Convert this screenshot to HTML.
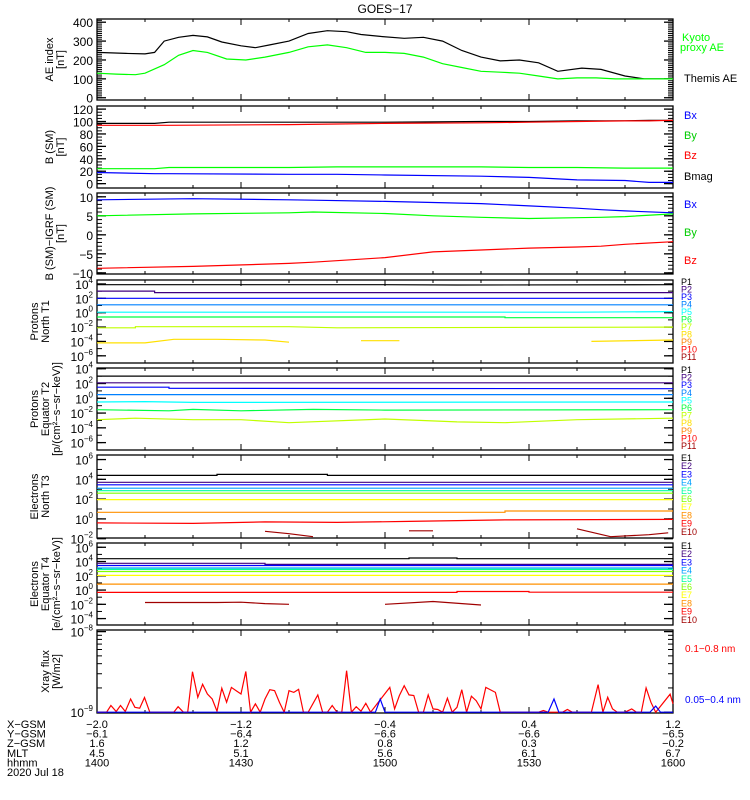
<!DOCTYPE html>
<html><head><meta charset="utf-8"><style>
html,body{margin:0;padding:0;background:#fff;}
svg{display:block;font-family:"Liberation Sans","DejaVu Sans",sans-serif;}
</style></head><body>
<svg id="fig" width="750" height="800" viewBox="0 0 750 800">
<text x="385" y="13" font-size="12" text-anchor="middle">GOES−17</text>
</svg>
<script>
// ---- data (time in minutes since 14:00) ----
const aeThemisT = [0,6,10,12,14,17,20,23,26,30,33,36,40,44,48,52,55,59,64,68,72,76,80,84,88,92,96,101,105,110,114,120];
const aeThemisV = [240,235,232,240,300,320,330,322,295,275,265,280,300,340,355,350,335,325,315,320,300,250,215,195,200,185,140,157,150,115,100,100];
const aeKyotoT = [0,4,8,10,14,17,20,23,27,31,35,40,44,48,52,56,60,64,68,72,76,80,84,88,92,96,100,104,108,112,116,120];
const aeKyotoV = [130,125,122,130,175,225,250,240,205,200,215,240,270,280,265,240,240,235,215,180,160,140,135,130,115,100,105,105,100,100,100,100];
const bT = [0,12,15,40,50,60,80,90,100,110,115,120];
const bMag = [97,97,99,99,99,99,100,100,101,101,102,102];
const bZ = [94,94,94,95,96,97,98,99,100,101,101,102];
const bY = [24,24,26,26,27,27,27,26,26,25,25,25];
const bX = [18,16,16,15,15,14,12,10,6,5,2,2];
const igT = [0,20,40,45,60,70,80,90,100,105,110,120];
const igBx = [9.2,9.5,9.2,9.1,8.8,8.5,8.2,7.6,7.0,6.6,6.3,5.8];
const igBy = [5.0,5.5,5.8,6.0,5.6,5.0,4.6,4.3,4.5,4.6,4.8,5.5];
const igBz = [-8.8,-8.3,-7.5,-7.2,-6.0,-4.5,-4.0,-3.5,-3.2,-3.0,-2.5,-1.8];
// log10 flux channels: [t, log10 value] pairs, null = gap
const t1Names = ["P1","P2","P3","P4","P5","P6","P7","P8","P9","P10","P11"];
const t1Data = [
 [[0,3.9],[60,3.9],[75,3.85],[120,3.9]],
 [[0,3.0],[12,3.0],[12,2.8],[120,2.8]],
 [[0,2.0],[120,2.0]],
 [[0,1.1],[120,1.1]],
 [[0,0.07],[100,0.07],[120,0.15]],
 [[0,-0.6],[85,-0.6],[85,-0.7],[120,-0.7]],
 [[0,-2.1],[8,-2.1],[8,-1.95],[40,-1.95],[50,-2.1],[120,-2.0]],
 [[0,-4.2],[10,-4.2],[16,-3.7],[25,-3.7],[35,-3.8],[40,-4.1],null,[55,-3.9],[63,-3.9],null,[103,-4.0],[120,-3.8]],
 [],[],[]
];
const t2Names = t1Names;
const t2Data = [
 [[0,3.0],[120,3.0]],
 [[0,2.1],[120,2.1]],
 [[0,1.5],[15,1.5],[15,1.35],[120,1.3]],
 [[0,0.5],[120,0.5]],
 [[0,-0.5],[10,-0.45],[20,-0.55],[120,-0.5]],
 [[0,-1.55],[15,-1.7],[20,-1.5],[30,-1.7],[45,-1.5],[60,-1.6],[120,-1.55]],
 [[0,-2.9],[8,-2.7],[20,-2.9],[30,-2.9],[40,-3.3],[60,-2.8],[75,-3.2],[85,-3.3],[100,-2.9],[120,-2.7]],
 [],[],[],[]
];
const t3Names = ["E1","E2","E3","E4","E5","E6","E7","E8","E9","E10"];
const t3Data = [
 [[0,4.4],[25,4.4],[25,4.5],[48,4.5],[48,4.4],[120,4.4]],
 [[0,3.7],[120,3.7]],
 [[0,3.45],[120,3.45]],
 [[0,3.1],[120,3.1]],
 [[0,2.85],[120,2.85]],
 [[0,2.6],[120,2.6]],
 [[0,1.95],[120,1.95]],
 [[0,0.67],[85,0.67],[85,0.8],[120,0.8]],
 [[0,-0.4],[20,-0.45],[35,-0.3],[50,-0.35],[65,-0.25],[85,-0.1],[120,-0.05]],
 [[35,-1.25],[40,-1.5],[45,-1.8],null,[65,-1.2],[70,-1.2],null,[100,-1.0],[107,-1.8],[115,-1.6],[119,-1.4]]
];
const t4Names = t3Names;
const t4Data = [
 [[0,4.4],[65,4.4],[65,4.5],[75,4.5],[75,4.4],[120,4.4]],
 [[0,3.75],[35,3.75],[35,3.6],[120,3.6]],
 [[0,3.45],[120,3.45]],
 [[0,3.1],[120,3.1]],
 [[0,2.9],[120,2.9]],
 [[0,2.6],[120,2.6]],
 [[0,2.05],[120,2.05]],
 [[0,0.83],[120,0.83]],
 [[0,-0.33],[75,-0.33],[75,-0.2],[90,-0.2],[90,-0.3],[120,-0.3]],
 [[10,-1.75],[25,-1.75],[30,-1.7],[35,-1.9],[40,-2.0],null,[60,-2.0],[70,-1.6],[80,-2.1]]
];
// X-ray flux in units of 1e-9 W/m2
const xrLongT = [0,2,2.9,4,4.9,5.9,7,7.9,8.9,9.9,11,16,16.9,18,18.9,19.9,21,22,23,24,25,26,27,28,29,30,31,32,33,34,35,36,37,38,39,40,41,42,43,44,46,47,48,49,50,51,52,53,54,55,56,57,61,62,63,64,65,66,67,68,69,70,71,72,73,74,75,76,77,78,79,80,81,82,83,84,90,92,93,94,97,98,99,103,104.4,105.4,106.4,107.4,108.4,110,111.4,112.4,113.4,114.4,115.4,116.4,119.4,120];
const xrLongV = [1,1,1.21,1.02,1.21,1.02,1.46,1.15,1.12,1.52,1,1,1.17,1,1,3.18,1.53,2.22,1.68,1.46,1.03,1.98,1.33,2.03,1.85,1.68,3.2,1,1.27,1,1.46,1.9,1.85,1.33,1,1.85,1.76,1.92,1,1,1.64,1,1,1.21,1,1,3.27,1,1.17,1.03,1.29,1,2.03,1.1,1.61,2.13,1.64,1.61,1,1,1.64,1.1,1.08,1,1.49,1,1.15,1.9,1,1.58,1.39,1.1,2.03,1.89,1.76,1,1,1,1.05,1,1,1.08,1,1,2.2,1,1.53,1.1,1,1,1.1,1,1,2.0,1.33,1,1.67,1.27];
const xrShortT = [0,58,59,60,94,95.2,96.2,115.2,116.4,117.4,120];
const xrShortV = [1,1,1.46,1,1,1.46,1,1,1.19,1,1];
const xTickT = [0,30,60,90,120];
const xGsm = ["−2.0","−1.2","−0.4","0.4","1.2"];
const yGsm = ["−6.1","−6.4","−6.6","−6.6","−6.5"];
const zGsm = ["1.6","1.2","0.8","0.3","−0.2"];
const mlt = ["4.5","5.1","5.6","6.1","6.7"];
const hhmm = ["1400","1430","1500","1530","1600"];

const NS="http://www.w3.org/2000/svg";
const svg=document.getElementById('fig');
const X0=97,X1=673;
function xs(t){return X0+(t/120)*(X1-X0);}
function el(tag,attrs,parent){const e=document.createElementNS(NS,tag);for(const k in attrs)e.setAttribute(k,attrs[k]);(parent||svg).appendChild(e);return e;}
function mkY(top,bot,lo,hi){return v=>bot-(v-lo)/(hi-lo)*(bot-top);}

function panel(name,top,bot){
  const g=el('g',{});
  
  
  const r=el('rect',{x:X0,y:top,width:X1-X0,height:bot-top,fill:'none',stroke:'#000','stroke-width':1.3},g);
  
  
  for(let t=10;t<120;t+=10){
    const L=(t%30===0)?6:3;
    el('line',{x1:xs(t),x2:xs(t),y1:bot,y2:bot-L,stroke:'#000'},g);
    el('line',{x1:xs(t),x2:xs(t),y1:top,y2:top+L,stroke:'#000'},g);
  }
  return g;
}
function yTicks(g,ys,vals,labels,minor){
  vals.forEach((v,i)=>{
    const y=ys(v);
    el('line',{x1:X0,x2:X0+9,y1:y,y2:y,stroke:'#000','stroke-width':1.3},g);
    el('line',{x1:X1,x2:X1-9,y1:y,y2:y,stroke:'#000','stroke-width':1.3},g);
    const tx=el('text',{x:X0-4,y:y+5,'font-size':12,'text-anchor':'end'},g);
    
    
    if(typeof labels[i]==='string') tx.textContent=labels[i];
    else { tx.textContent='10'; const s=el('tspan',{'font-size':8,dy:-6},tx); s.textContent=labels[i].e; }
  });
  (minor||[]).forEach(v=>{const y=ys(v);el('line',{x1:X0,x2:X0+5,y1:y,y2:y,stroke:'#000'},g);el('line',{x1:X1,x2:X1-5,y1:y,y2:y,stroke:'#000'},g);});
}
function ytitle(g,lines,top,bot,xsArr){
  const cy=(top+bot)/2;
  lines.forEach((s,i)=>{
    const t=el('text',{x:xsArr[i],y:cy,'font-size':11,'text-anchor':'middle',transform:`rotate(-90 ${xsArr[i]} ${cy})`},g);
    
    
    t.textContent=s;
  });
}
function line(g,T,V,ys,color,name){
  const p=T.map((t,i)=>xs(t).toFixed(1)+','+ys(V[i]).toFixed(1)).join(' ');
  const pl=el('polyline',{points:p,fill:'none',stroke:color,'stroke-width':1.2},g);
  
  
}
function segLine(g,pairs,ys,color,name){
  let cur=[];const segs=[];
  pairs.forEach(p=>{if(p===null){if(cur.length)segs.push(cur);cur=[];}else cur.push(p);});
  if(cur.length)segs.push(cur);
  segs.forEach(s=>line(g,s.map(p=>p[0]),s.map(p=>p[1]),ys,color,name));
}
function rlabel(g,x,y,txt,color,size){
  const t=el('text',{x:x,y:y,'font-size':size||11,fill:color},g);
  
  
  t.textContent=txt;
}
function range(a,b,s){const r=[];for(let v=a;v<=b+1e-9;v+=s)r.push(v);return r;}

// Panel 1 AE
{const top=19,bot=100,ys=mkY(top,bot,-12,417);const g=panel('ae-index-panel',top,bot);
 yTicks(g,ys,[0,100,200,300,400],["0","100","200","300","400"],range(0,410,10));
 ytitle(g,["AE index","[nT]"],top,bot,[53,64]);
 line(g,aeThemisT,aeThemisV,ys,'#000','themis-ae-line');
 line(g,aeKyotoT,aeKyotoV,ys,'#00ff00','kyoto-proxy-ae-line');
 rlabel(g,682,41,'Kyoto','#00ff00');rlabel(g,680,51,'proxy AE','#00ff00');rlabel(g,684,82,'Themis AE','#000');}
// Panel 2 B
{const top=106,bot=188,ys=mkY(top,bot,-7,125);const g=panel('b-sm-panel',top,bot);
 yTicks(g,ys,[0,20,40,60,80,100,120],["0","20","40","60","80","100","120"],range(0,120,5));
 ytitle(g,["B (SM)","[nT]"],top,bot,[53,64]);
 line(g,bT,bMag,ys,'#000','bmag-line');line(g,bT,bZ,ys,'#ff0000','bz-line');
 line(g,bT,bY,ys,'#00ff00','by-line');line(g,bT,bX,ys,'#0000ff','bx-line');
 rlabel(g,684,119,'Bx','#0000ff');rlabel(g,684,139,'By','#00cc00');rlabel(g,684,159,'Bz','#ff0000');rlabel(g,684,180,'Bmag','#000');}
// Panel 3 B-IGRF
{const top=193,bot=274,ys=mkY(top,bot,-10.3,11);const g=panel('b-minus-igrf-panel',top,bot);
 yTicks(g,ys,[-10,-5,0,5,10],["−10","−5","0","5","10"],range(-10,10,1));
 ytitle(g,["B (SM)−IGRF (SM)","[nT]"],top,bot,[53,64]);
 line(g,igT,igBx,ys,'#0000ff','bx-igrf-line');line(g,igT,igBy,ys,'#00ff00','by-igrf-line');line(g,igT,igBz,ys,'#ff0000','bz-igrf-line');
 rlabel(g,684,208,'Bx','#0000ff');rlabel(g,684,236,'By','#00cc00');rlabel(g,684,264,'Bz','#ff0000');}

const pCol=['#000000','#400080','#0000ff','#0080ff','#00ffff','#00ff40','#c0ff00','#ffe000','#ff8000','#ff0000','#a00000'];
const eCol=['#000000','#400080','#0000ff','#00a0ff','#00ffa0','#80ff00','#ffff00','#ff9000','#ff0000','#a00000'];
function logPanel(name,top,bot,lo,hi,decs,titles,names,data,cols,lab0,labStep){
  const ys=mkY(top,bot,lo,hi);const g=panel(name,top,bot);
  yTicks(g,ys,decs,decs.map(d=>({e:String(d).replace('-','−')})),range(Math.ceil(lo),Math.floor(hi),1));
  ytitle(g,titles,top,bot,[38,49,60].slice(0,titles.length));
  data.forEach((d,i)=>{if(d.length)segLine(g,d,ys,cols[i],names[i].toLowerCase()+'-flux-line');});
  names.forEach((n,i)=>rlabel(g,681,lab0+i*labStep+3,n,i===0?'#000':cols[i],9));
}
logPanel('protons-north-t1-panel',280,363,-7,4.55,[-6,-4,-2,0,2,4],["Protons","North T1"],t1Names,t1Data,pCol,282,7.5);
logPanel('protons-equator-t2-panel',368,450,-7,4.1,[-6,-4,-2,0,2,4],["Protons","Equator T2","[p/(cm²−s−sr−keV)]"],t2Names,t2Data,pCol,370,7.6);
logPanel('electrons-north-t3-panel',455,538,-1.93,6.46,[-2,0,2,4,6],["Electrons","North T3"],t3Names,t3Data,eCol,458,8.2);
logPanel('electrons-equator-t4-panel',543,625,-4.9,6.6,[-4,-2,0,2,4,6],["Electrons","Equator T4","[e/(cm²−s−sr−keV)]"],t4Names,t4Data,eCol,546,8.2);
// X-ray
{const top=630,bot=713,ys=v=>mkY(top,bot,-9.01,-7.98)(Math.log10(v)-9);const g=panel('xray-flux-panel',top,bot);
 const yl=mkY(top,bot,-9.01,-7.98);
 [[-9,'−9'],[-8,'−8']].forEach(([d,s])=>{const y=yl(d);el('line',{x1:X0,x2:X0+9,y1:y,y2:y,stroke:'#000','stroke-width':1.3},g);el('line',{x1:X1,x2:X1-9,y1:y,y2:y,stroke:'#000','stroke-width':1.3},g);
  const tx=el('text',{x:X0-4,y:y+5,'font-size':12,'text-anchor':'end'},g);tx.textContent='10';const sp=el('tspan',{'font-size':8,dy:-6},tx);sp.textContent=s;});
 for(let k=2;k<10;k++){const y=yl(-9+Math.log10(k));el('line',{x1:X0,x2:X0+5,y1:y,y2:y,stroke:'#000'},g);el('line',{x1:X1,x2:X1-5,y1:y,y2:y,stroke:'#000'},g);}
 ytitle(g,["Xray flux","[W/m2]"],top,bot,[49,60]);
 line(g,xrLongT,xrLongV,ys,'#ff0000','xray-long-line');
 line(g,xrShortT,xrShortV,ys,'#0000ff','xray-short-line');
 rlabel(g,685,652,'0.1−0.8 nm','#ff0000',10);rlabel(g,685,703,'0.05−0.4 nm','#0000ff',10);}
// bottom annotations
{const g=el('g',{});
 const rows=[["X−GSM",xGsm],["Y−GSM",yGsm],["Z−GSM",zGsm],["MLT",mlt],["hhmm",hhmm]];
 rows.forEach((r,ri)=>{const y=728+ri*9.6;
  const h=el('text',{x:7,y:y,'font-size':11},g);h.textContent=r[0];
  r[1].forEach((s,i)=>{const t=el('text',{x:xs(xTickT[i]),y:y,'font-size':11,'text-anchor':'middle'},g);t.textContent=s;});});
 const d=el('text',{x:7,y:776,'font-size':11},g);d.textContent='2020 Jul 18';}
</script>
</body></html>
